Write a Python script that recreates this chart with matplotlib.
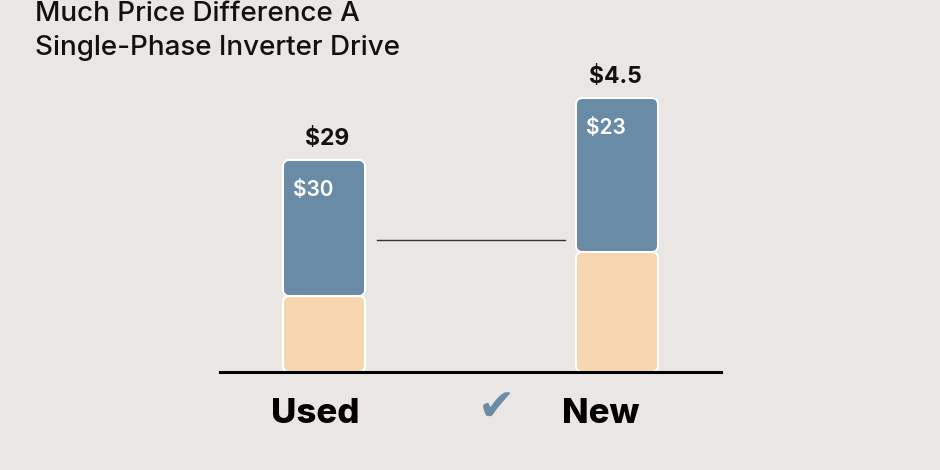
import matplotlib.pyplot as plt
from matplotlib.patches import FancyBboxPatch

# data
categories = ['Used', 'New']
base_part = [19, 30]       # peach lower segment
top_part = [34, 38.5]      # blue upper segment
top_labels = ['$29', '$4.5']
inner_labels = ['$30', '$23']

bg = '#e9e6e3'
blue = '#6a8ba5'
peach = '#f6d6ae'

plt.rcParams['font.family'] = ['Inter', 'DejaVu Sans']

fig = plt.figure(figsize=(9.4, 4.7), dpi=100, facecolor=bg)
ax = fig.add_axes([220 / 940, 98 / 470, 501 / 940, 372 / 470])
ax.set_facecolor(bg)

x = range(len(categories))
b1 = ax.bar(x, base_part, width=0.28, color=peach)
b2 = ax.bar(x, top_part, width=0.28, bottom=base_part, color=blue)

# swap plain rectangles for slightly rounded ones
for p in list(b1.patches) + list(b2.patches):
    fb = FancyBboxPatch((p.get_x(), p.get_y()), p.get_width(), p.get_height(),
                        boxstyle='round,pad=0,rounding_size=0.022', mutation_aspect=73,
                        facecolor=p.get_facecolor(), edgecolor='white', linewidth=1.5)
    p.set_visible(False)
    ax.add_patch(fb)

for i in x:
    total = base_part[i] + top_part[i]
    ax.text(i + [0.012, -0.007][i], total + 5.25, top_labels[i], ha='center', va='center',
            fontsize=16.5, fontweight='bold', color='#111111')
    ax.text(i - 0.105, total - 7.5, inner_labels[i], ha='left', va='center',
            fontsize=15, fontweight='semibold', color='white')

# connector line between the bars
ax.plot([0.181, 0.823], [33, 33], color='#333333', lw=1)

ax.axhline(0, color='black', lw=2.2, clip_on=False)
ax.set_xlim(-0.355, 1.355)
ax.set_ylim(0, 93)
ax.set_xticks([])
ax.set_yticks([])
for s in ax.spines.values():
    s.set_visible(False)

# category labels under the bars
for i, name in enumerate(categories):
    ax.text(i + [-0.03, -0.055][i], -10.5, name, ha='center', va='center',
            fontsize=25, fontweight='heavy', color='black', clip_on=False)

# check mark between the labels
fig.text(496 / 940, 1 - 407 / 470, '\u2714', ha='center', va='center',
         fontsize=32, color=blue, family=['DejaVu Sans'])

fig.text(35 / 940, 1 - 21 / 470, 'Much Price Difference A', ha='left', va='baseline',
         fontsize=20, fontweight='medium', color='#111111')
fig.text(35 / 940, 1 - 55 / 470, 'Single-Phase Inverter Drive', ha='left', va='baseline',
         fontsize=20, fontweight='medium', color='#111111')

fig.savefig('out.png', dpi=100, facecolor=bg)
